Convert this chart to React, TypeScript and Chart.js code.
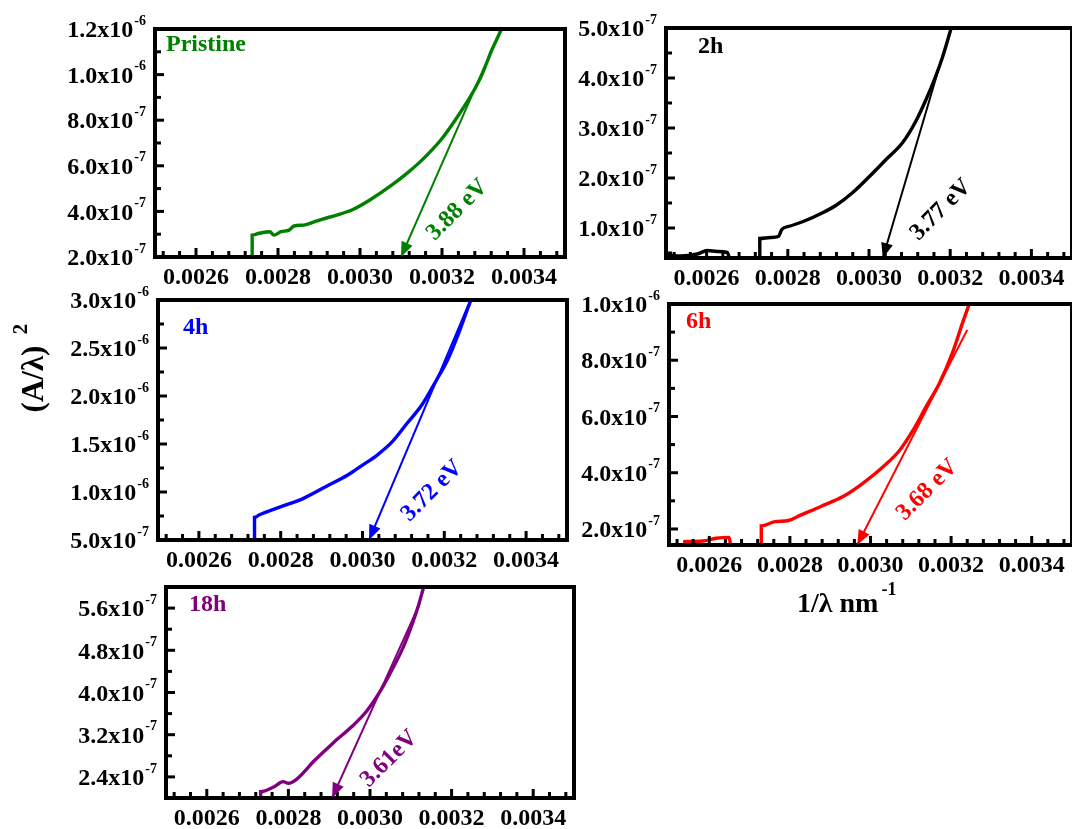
import React, { useEffect, useRef } from "react";
import { Chart, registerables } from "chart.js";

Chart.register(...registerables);

const W = 1072;
const H = 829;
const FONT = '"Liberation Serif", "Times New Roman", serif';

// ---------- shared x axis ----------
const X_MIN = 0.0025;
const X_MAX = 0.0035;
const xTickLabels = [0.0026, 0.0028, 0.003, 0.0032, 0.0034];

// ---------- Pristine ----------
const pristineX = [0.002737, 0.002737, 0.002754, 0.00278, 0.00279, 0.002807, 0.002827, 0.002839, 0.002863, 0.00289, 0.002907, 0.002943, 0.00298, 0.003024, 0.003078, 0.003115, 0.003151, 0.003197, 0.003232, 0.003268, 0.003295, 0.003322, 0.003345, 0.00336];
const pristineY = [1.8e-7, 2.96e-7, 3.04e-7, 3.11e-7, 2.96e-7, 3.11e-7, 3.18e-7, 3.36e-7, 3.4e-7, 3.55e-7, 3.65e-7, 3.84e-7, 4.06e-7, 4.5e-7, 5.16e-7, 5.68e-7, 6.25e-7, 7.13e-7, 8.0e-7, 9.0e-7, 9.9e-7, 1.11e-6, 1.2e-6, 1.27e-6];
const pristineTangentX = [0.00331, 0.0031];
const pristineTangentY = [1.06e-6, 2.0e-7];
const pristineYTicks = [2e-7, 4e-7, 6e-7, 8e-7, 1e-6, 1.2e-6];

// ---------- 2h ----------
const h2X = [0.002504, 0.002537, 0.002577, 0.002602, 0.002626, 0.002651, 0.002659, 0.002731, 0.002731, 0.002757, 0.002777, 0.002785, 0.002806, 0.002838, 0.002887, 0.00292, 0.00296, 0.003001, 0.003042, 0.003083, 0.003115, 0.00314, 0.003164, 0.00318, 0.003201, 0.003209];
const h2Y = [4.6e-8, 4.4e-8, 4.8e-8, 5.5e-8, 5.3e-8, 5.1e-8, 3.5e-8, 3.5e-8, 7.9e-8, 8.1e-8, 8.3e-8, 9.7e-8, 1.04e-7, 1.13e-7, 1.31e-7, 1.46e-7, 1.71e-7, 2.03e-7, 2.37e-7, 2.71e-7, 3.13e-7, 3.56e-7, 4.03e-7, 4.39e-7, 4.96e-7, 5.2e-7];
const h2TangentX = [0.003177, 0.003034];
const h2TangentY = [4.33e-7, 4e-8];
const h2YTicks = [1e-7, 2e-7, 3e-7, 4e-7, 5e-7];

// ---------- 4h ----------
const h4X = [0.002736, 0.002736, 0.002747, 0.002801, 0.002856, 0.00291, 0.002964, 0.003, 0.003036, 0.003073, 0.003109, 0.003145, 0.003181, 0.003208, 0.003235, 0.003262, 0.00328];
const h4Y = [4.5e-7, 7.36e-7, 7.6e-7, 8.47e-7, 9.34e-7, 1.055e-6, 1.177e-6, 1.28e-6, 1.385e-6, 1.524e-6, 1.716e-6, 1.906e-6, 2.167e-6, 2.375e-6, 2.653e-6, 2.966e-6, 3.15e-6];
const h4TangentX = [0.003262, 0.003016];
const h4TangentY = [2.98e-6, 5e-7];
const h4YTicks = [5e-7, 1e-6, 1.5e-6, 2e-6, 2.5e-6, 3e-6];

// ---------- 6h ----------
const h6X = [0.002535, 0.002584, 0.002617, 0.002649, 0.002655, 0.002729, 0.002729, 0.002763, 0.002796, 0.002828, 0.002877, 0.002934, 0.002975, 0.003032, 0.003073, 0.003106, 0.003138, 0.003171, 0.003203, 0.003228, 0.003244, 0.003255];
const h6Y = [1.55e-7, 1.57e-7, 1.67e-7, 1.7e-7, 1.3e-7, 1.3e-7, 2.11e-7, 2.26e-7, 2.3e-7, 2.5e-7, 2.8e-7, 3.17e-7, 3.56e-7, 4.22e-7, 4.81e-7, 5.52e-7, 6.35e-7, 7.18e-7, 8.25e-7, 9.31e-7, 9.96e-7, 1.04e-6];
const h6TangentX = [0.00324, 0.002967];
const h6TangentY = [9.08e-7, 1.43e-7];
const h6YTicks = [2e-7, 4e-7, 6e-7, 8e-7, 1e-6];

// ---------- 18h ----------
const h18X = [0.002732, 0.002732, 0.002764, 0.002787, 0.0028, 0.002819, 0.002864, 0.002909, 0.002955, 0.002991, 0.003027, 0.003054, 0.003082, 0.003104, 0.003118, 0.003131, 0.00314];
const h18Y = [1.9e-7, 2.12e-7, 2.21e-7, 2.31e-7, 2.28e-7, 2.35e-7, 2.71e-7, 3.04e-7, 3.35e-7, 3.64e-7, 4.05e-7, 4.43e-7, 4.87e-7, 5.31e-7, 5.63e-7, 5.98e-7, 6.2e-7];
const h18TangentX = [0.003122, 0.002907];
const h18TangentY = [5.69e-7, 2e-7];
const h18YTicks = [2.4e-7, 3.2e-7, 4e-7, 4.8e-7, 5.6e-7];

// ---------- labels ----------
const panelTitles = ["Pristine", "2h", "4h", "6h", "18h"];
const gapLabels = ["3.88 eV", "3.77 eV", "3.72 eV", "3.68 eV", "3.61eV"];
const gapLabelX = [0.003237, 0.003177, 0.00317, 0.003141, 0.003047];
const gapLabelY = [4.06e-7, 1.36e-7, 1.01e-6, 3.39e-7, 2.74e-7];

type Panel = {
  xs: number[]; ys: number[]; tx: number[]; ty: number[]; yTicks: number[];
  yMin: number; yMax: number; yMinor: number;
  area: { left: number; top: number; right: number; bottom: number };
  color: string; titleDx: number; titleDy: number; idx: number; figureTitles?: boolean;
};

const panels: Panel[] = [
  { idx: 0, xs: pristineX, ys: pristineY, tx: pristineTangentX, ty: pristineTangentY, yTicks: pristineYTicks,
    yMin: 2e-7, yMax: 1.2e-6, yMinor: 1e-7, area: { left: 155, top: 29, right: 565, bottom: 257 },
    color: "#008000", titleDx: 11, titleDy: 16 },
  { idx: 1, xs: h2X, ys: h2Y, tx: h2TangentX, ty: h2TangentY, yTicks: h2YTicks,
    yMin: 4e-8, yMax: 5e-7, yMinor: 5e-8, area: { left: 666, top: 28, right: 1075, bottom: 258 },
    color: "#000000", titleDx: 32, titleDy: 19 },
  { idx: 2, xs: h4X, ys: h4Y, tx: h4TangentX, ty: h4TangentY, yTicks: h4YTicks,
    yMin: 5e-7, yMax: 3e-6, yMinor: 2.5e-7, area: { left: 158, top: 300, right: 567, bottom: 540 },
    color: "#0000ff", titleDx: 25, titleDy: 28 },
  { idx: 3, xs: h6X, ys: h6Y, tx: h6TangentX, ty: h6TangentY, yTicks: h6YTicks,
    yMin: 1.43e-7, yMax: 1e-6, yMinor: 1e-7, area: { left: 669, top: 304, right: 1078, bottom: 545 },
    color: "#ff0000", titleDx: 17, titleDy: 18, figureTitles: true },
  { idx: 4, xs: h18X, ys: h18Y, tx: h18TangentX, ty: h18TangentY, yTicks: h18YTicks,
    yMin: 2e-7, yMax: 6e-7, yMinor: 4e-8, area: { left: 166, top: 587, right: 574, bottom: 798 },
    color: "#800080", titleDx: 23, titleDy: 18 },
];

function makePlugin(p: Panel) {
  return {
    id: "frame" + p.idx,
    afterDraw(chart: any) {
      const { ctx, chartArea: a, scales } = chart;
      const xs = scales.x;
      const ys = scales.y;
      ctx.save();
      ctx.strokeStyle = "#000";
      ctx.fillStyle = "#000";
      ctx.lineCap = "butt";

      // x ticks (inward)
      ctx.lineWidth = 3;
      const xStep = 0.00004;
      for (let k = -3; k <= 22; k++) {
        const v = xTickLabels[0] + k * xStep;
        if (v <= X_MIN + 1e-9 || v >= X_MAX - 1e-9) continue;
        const px = xs.getPixelForValue(v);
        const len = ((k % 5) + 5) % 5 === 0 ? 9 : 6;
        ctx.beginPath();
        ctx.moveTo(px, a.bottom);
        ctx.lineTo(px, a.bottom - len);
        ctx.stroke();
      }
      // y ticks (inward)
      const anchor = p.yTicks[0];
      const k0 = Math.floor((p.yMin - anchor) / p.yMinor) - 1;
      const k1 = Math.ceil((p.yMax - anchor) / p.yMinor) + 1;
      for (let k = k0; k <= k1; k++) {
        const v = anchor + k * p.yMinor;
        if (v < p.yMin - 1e-12 || v > p.yMax + 1e-12) continue;
        const py = ys.getPixelForValue(v);
        const len = ((k % 2) + 2) % 2 === 0 ? 9 : 6;
        ctx.beginPath();
        ctx.moveTo(a.left, py);
        ctx.lineTo(a.left + len, py);
        ctx.stroke();
      }
      // frame
      ctx.lineWidth = 4;
      ctx.strokeRect(a.left, a.top, a.right - a.left, a.bottom - a.top);

      // x tick labels
      ctx.font = "bold 24px " + FONT;
      ctx.textAlign = "center";
      ctx.textBaseline = "middle";
      for (const v of xTickLabels) {
        ctx.fillText(v.toFixed(4), xs.getPixelForValue(v), a.bottom + 21);
      }
      // y tick labels with superscript exponent
      for (const v of p.yTicks) {
        const [m, e] = v.toExponential(1).split("e");
        const py = ys.getPixelForValue(v);
        ctx.font = "bold 14px " + FONT;
        const supW = ctx.measureText(e).width;
        ctx.textAlign = "right";
        ctx.fillText(e, a.left - 9, py - 8);
        ctx.font = "bold 24px " + FONT;
        ctx.fillText(m + "x10", a.left - 10 - supW, py + 2);
      }

      // panel title
      ctx.fillStyle = p.color;
      ctx.textAlign = "left";
      ctx.font = "bold 24px " + FONT;
      ctx.fillText(panelTitles[p.idx], a.left + p.titleDx, a.top + p.titleDy);

      // arrow head on the tangent line
      const sx = xs.getPixelForValue(p.tx[0]);
      const sy = ys.getPixelForValue(p.ty[0]);
      const ex = xs.getPixelForValue(p.tx[1]);
      const ey = ys.getPixelForValue(p.ty[1]);
      const ang = Math.atan2(ey - sy, ex - sx);
      const L = 15, hw = 6;
      ctx.beginPath();
      ctx.moveTo(ex, ey);
      ctx.lineTo(ex - L * Math.cos(ang) + hw * Math.sin(ang), ey - L * Math.sin(ang) - hw * Math.cos(ang));
      ctx.lineTo(ex - L * Math.cos(ang) - hw * Math.sin(ang), ey - L * Math.sin(ang) + hw * Math.cos(ang));
      ctx.closePath();
      ctx.fill();

      // rotated band-gap label
      ctx.save();
      ctx.translate(xs.getPixelForValue(gapLabelX[p.idx]), ys.getPixelForValue(gapLabelY[p.idx]));
      ctx.rotate(-Math.PI / 4);
      ctx.textAlign = "center";
      ctx.font = "bold 24px " + FONT;
      ctx.fillText(gapLabels[p.idx], 0, 0);
      ctx.restore();

      // figure-level axis titles
      if (p.figureTitles) {
        ctx.fillStyle = "#000";
        ctx.textAlign = "left";
        ctx.font = "bold 28px " + FONT;
        const t = "1/\u03bb nm";
        ctx.fillText(t, 797, 605);
        const tw = ctx.measureText(t).width;
        ctx.font = "bold 18px " + FONT;
        ctx.fillText("-1", 797 + tw + 3, 590);

        ctx.save();
        ctx.translate(35, 379);
        ctx.rotate(-Math.PI / 2);
        ctx.textAlign = "center";
        ctx.font = "bold 31px " + FONT;
        ctx.fillText("(A/\u03bb)", 0, 0);
        ctx.font = "bold 21px " + FONT;
        ctx.fillText("2", 50, -13);
        ctx.restore();
      }
      ctx.restore();
    },
  };
}

function PanelChart({ p }: { p: Panel }) {
  const ref = useRef<HTMLCanvasElement>(null);
  useEffect(() => {
    const canvas = ref.current;
    if (!canvas) return;
    const a = p.area;
    const chart = new Chart(canvas, {
      type: "line",
      data: {
        datasets: [
          {
            data: p.xs.map((x, i) => ({ x, y: p.ys[i] })),
            borderColor: p.color,
            borderWidth: 3.4,
            pointRadius: 0,
            cubicInterpolationMode: "monotone",
            fill: false,
            clip: 0,
          } as any,
          {
            data: p.tx.map((x, i) => ({ x, y: p.ty[i] })),
            borderColor: p.color,
            borderWidth: 2,
            pointRadius: 0,
            tension: 0,
            fill: false,
            clip: 0,
          } as any,
        ],
      },
      options: {
        responsive: false,
        maintainAspectRatio: false,
        animation: false,
        events: [],
        layout: { padding: { left: a.left, top: a.top, right: W - a.right, bottom: H - a.bottom } },
        scales: {
          x: { type: "linear", min: X_MIN, max: X_MAX, display: false },
          y: { type: "linear", min: p.yMin, max: p.yMax, display: false },
        },
        plugins: { legend: { display: false }, tooltip: { enabled: false } },
      },
      plugins: [makePlugin(p)],
    });
    return () => chart.destroy();
  }, [p]);
  return (
    <canvas
      ref={ref}
      width={W}
      height={H}
      style={{ position: "absolute", left: 0, top: 0, width: W, height: H }}
    />
  );
}

export default function App() {
  return (
    <div style={{ position: "absolute", left: 0, top: 0, width: W, height: H, background: "#fff", overflow: "hidden" }}>
      {panels.map((p) => (
        <PanelChart key={p.idx} p={p} />
      ))}
    </div>
  );
}
